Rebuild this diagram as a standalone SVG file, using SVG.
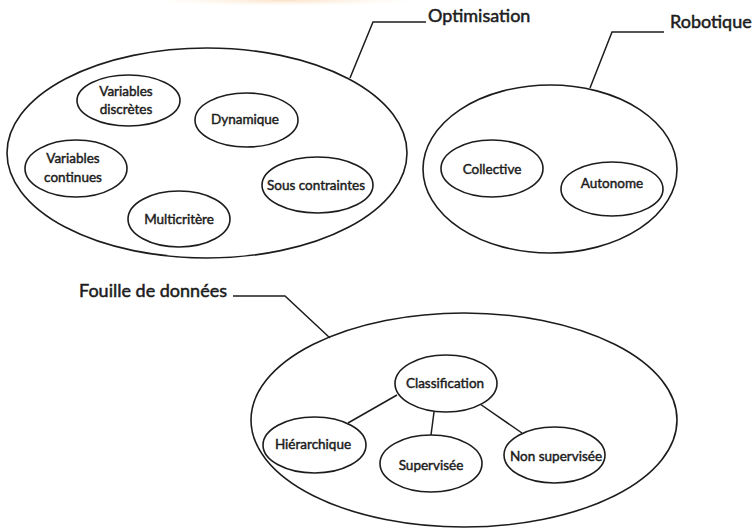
<svg xmlns="http://www.w3.org/2000/svg" width="752" height="530" viewBox="0 0 752 530">
  <defs>
    <style>
      .area { fill: none; stroke: #1c1c1c; stroke-width: 1.6; }
      .node ellipse { fill: #ffffff; stroke: #1c1c1c; stroke-width: 1.6; }
      .node text { font-family: Lato, "Liberation Sans", sans-serif; font-size: 13.5px; fill: #1c1c1c; stroke: #1c1c1c; stroke-width: 0.45px; text-anchor: middle; }
      .title { font-family: Lato, "Liberation Sans", sans-serif; font-size: 18px; fill: #1c1c1c; stroke: #1c1c1c; stroke-width: 0.5px; }
      .link { fill: none; stroke: #1c1c1c; stroke-width: 1.5; }
    </style>
    <radialGradient id="glow" cx="0.5" cy="0.5" r="0.5">
      <stop offset="0" stop-color="#f6c79a" stop-opacity="0.55"/>
      <stop offset="1" stop-color="#fbe7c0" stop-opacity="0"/>
    </radialGradient>
  </defs>

  <rect width="752" height="530" fill="#ffffff"/>
  <!-- soft warm tint along the top edge -->
  <ellipse cx="285" cy="0" rx="130" ry="6" fill="url(#glow)"/>

  <!-- grouping areas -->
  <g id="optimisation">
    <ellipse class="area" cx="207" cy="153" rx="200" ry="105"/>
    <text class="title" x="428" y="22">Optimisation</text>
  </g>
  <g id="robotique">
    <ellipse class="area" cx="550" cy="169" rx="127" ry="84"/>
    <text class="title" x="670" y="28">Robotique</text>
  </g>
  <g id="fouille">
    <ellipse class="area" cx="464" cy="420" rx="213" ry="107"/>
    <text class="title" x="79" y="297">Fouille de données</text>
  </g>

  <!-- connectors: label leaders and classification tree -->
  <g id="connectors">
    <polyline class="link" points="350,78 373,22 426,22"/>
    <polyline class="link" points="590,88 612,32 664,32"/>
    <polyline class="link" points="233,296 285,296 330,338"/>
    <line class="link" x1="397" y1="395" x2="348" y2="423"/>
    <line class="link" x1="434" y1="412" x2="431" y2="435"/>
    <line class="link" x1="480" y1="404" x2="522" y2="433"/>
  </g>

  <!-- Optimisation -->
  <g id="variables-discretes" class="node">
    <ellipse cx="128.5" cy="100.5" rx="51.5" ry="25.5"/>
    <text x="126" y="96">Variables</text>
    <text x="126" y="114">discrètes</text>
  </g>
  <g id="dynamique" class="node">
    <ellipse cx="246.5" cy="120" rx="51.5" ry="27"/>
    <text x="245" y="124">Dynamique</text>
  </g>
  <g id="variables-continues" class="node">
    <ellipse cx="76" cy="168.5" rx="51" ry="28.5"/>
    <text x="73" y="163">Variables</text>
    <text x="73" y="182">continues</text>
  </g>
  <g id="sous-contraintes" class="node">
    <ellipse cx="317.5" cy="185" rx="55.5" ry="28"/>
    <text x="316" y="190">Sous contraintes</text>
  </g>
  <g id="multicritere" class="node">
    <ellipse cx="179" cy="219" rx="51" ry="28"/>
    <text x="179" y="224">Multicritère</text>
  </g>

  <!-- Robotique -->
  <g id="collective" class="node">
    <ellipse cx="492" cy="168.5" rx="51" ry="28.5"/>
    <text x="492" y="174">Collective</text>
  </g>
  <g id="autonome" class="node">
    <ellipse cx="612" cy="189" rx="51" ry="27"/>
    <text x="612" y="188">Autonome</text>
  </g>

  <!-- Fouille de données -->
  <g id="classification" class="node">
    <ellipse cx="446" cy="383.5" rx="51" ry="28.5"/>
    <text x="445" y="388">Classification</text>
  </g>
  <g id="hierarchique" class="node">
    <ellipse cx="314.5" cy="445" rx="51.5" ry="28"/>
    <text x="313" y="449">Hiérarchique</text>
  </g>
  <g id="supervisee" class="node">
    <ellipse cx="431" cy="463.5" rx="51" ry="28.5"/>
    <text x="431" y="470">Supervisée</text>
  </g>
  <g id="non-supervisee" class="node">
    <ellipse cx="554.5" cy="455" rx="50.5" ry="28"/>
    <text x="556" y="461">Non supervisée</text>
  </g>
</svg>
